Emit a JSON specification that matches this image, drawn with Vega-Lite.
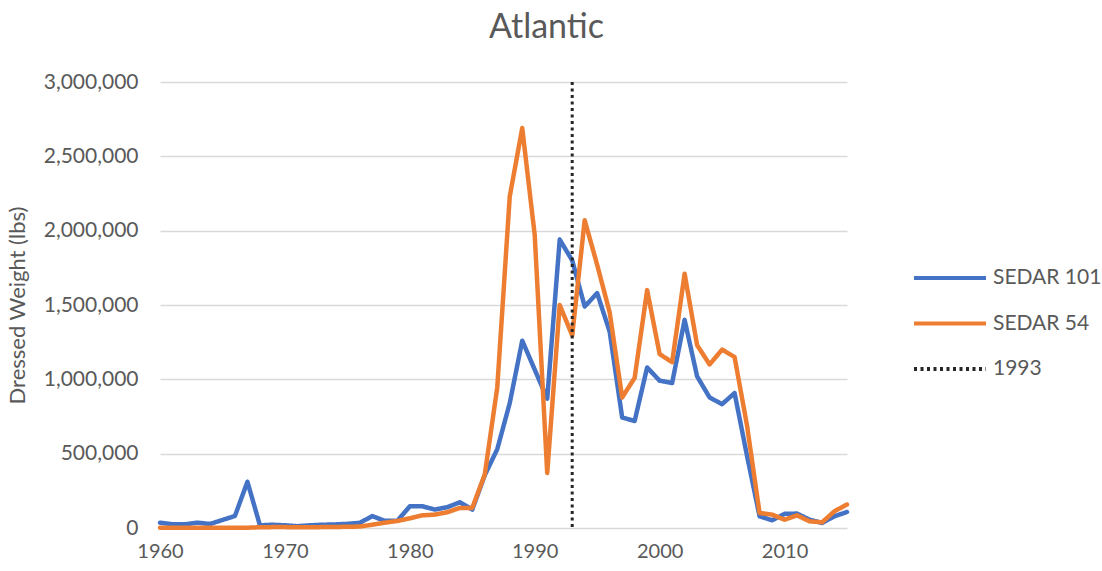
{
  "$schema": "https://vega.github.io/schema/vega-lite/v6.json",
  "width": 687,
  "height": 446,
  "autosize": "none",
  "padding": {"left": 160, "top": 82, "right": 255, "bottom": 43},
  "background": "white",
  "config": {"font": "Lato", "view": {"stroke": null}},
  "title": {"text": "Atlantic", "fontSize": 34, "fontWeight": "normal", "color": "#595959", "anchor": "middle", "dx": 43, "offset": 26},
  "datasets": {
    "landings": [
      {"year":1960,"series":"SEDAR 101","value":36000},
      {"year":1961,"series":"SEDAR 101","value":25000},
      {"year":1962,"series":"SEDAR 101","value":25000},
      {"year":1963,"series":"SEDAR 101","value":36000},
      {"year":1964,"series":"SEDAR 101","value":27000},
      {"year":1965,"series":"SEDAR 101","value":54000},
      {"year":1966,"series":"SEDAR 101","value":81000},
      {"year":1967,"series":"SEDAR 101","value":311000},
      {"year":1968,"series":"SEDAR 101","value":18000},
      {"year":1969,"series":"SEDAR 101","value":22000},
      {"year":1970,"series":"SEDAR 101","value":18000},
      {"year":1971,"series":"SEDAR 101","value":12000},
      {"year":1972,"series":"SEDAR 101","value":18000},
      {"year":1973,"series":"SEDAR 101","value":22000},
      {"year":1974,"series":"SEDAR 101","value":24000},
      {"year":1975,"series":"SEDAR 101","value":28000},
      {"year":1976,"series":"SEDAR 101","value":35000},
      {"year":1977,"series":"SEDAR 101","value":80000},
      {"year":1978,"series":"SEDAR 101","value":48000},
      {"year":1979,"series":"SEDAR 101","value":48000},
      {"year":1980,"series":"SEDAR 101","value":146000},
      {"year":1981,"series":"SEDAR 101","value":146000},
      {"year":1982,"series":"SEDAR 101","value":124000},
      {"year":1983,"series":"SEDAR 101","value":140000},
      {"year":1984,"series":"SEDAR 101","value":173000},
      {"year":1985,"series":"SEDAR 101","value":124000},
      {"year":1986,"series":"SEDAR 101","value":355000},
      {"year":1987,"series":"SEDAR 101","value":530000},
      {"year":1988,"series":"SEDAR 101","value":840000},
      {"year":1989,"series":"SEDAR 101","value":1260000},
      {"year":1990,"series":"SEDAR 101","value":1065000},
      {"year":1991,"series":"SEDAR 101","value":870000},
      {"year":1992,"series":"SEDAR 101","value":1940000},
      {"year":1993,"series":"SEDAR 101","value":1800000},
      {"year":1994,"series":"SEDAR 101","value":1490000},
      {"year":1995,"series":"SEDAR 101","value":1580000},
      {"year":1996,"series":"SEDAR 101","value":1320000},
      {"year":1997,"series":"SEDAR 101","value":743000},
      {"year":1998,"series":"SEDAR 101","value":720000},
      {"year":1999,"series":"SEDAR 101","value":1080000},
      {"year":2000,"series":"SEDAR 101","value":991000},
      {"year":2001,"series":"SEDAR 101","value":975000},
      {"year":2002,"series":"SEDAR 101","value":1400000},
      {"year":2003,"series":"SEDAR 101","value":1020000},
      {"year":2004,"series":"SEDAR 101","value":878000},
      {"year":2005,"series":"SEDAR 101","value":833000},
      {"year":2006,"series":"SEDAR 101","value":908000},
      {"year":2007,"series":"SEDAR 101","value":484000},
      {"year":2008,"series":"SEDAR 101","value":79000},
      {"year":2009,"series":"SEDAR 101","value":52000},
      {"year":2010,"series":"SEDAR 101","value":95000},
      {"year":2011,"series":"SEDAR 101","value":97000},
      {"year":2012,"series":"SEDAR 101","value":56000},
      {"year":2013,"series":"SEDAR 101","value":34000},
      {"year":2014,"series":"SEDAR 101","value":79000},
      {"year":2015,"series":"SEDAR 101","value":108000},
      {"year":1960,"series":"SEDAR 54","value":2000},
      {"year":1961,"series":"SEDAR 54","value":2000},
      {"year":1962,"series":"SEDAR 54","value":2000},
      {"year":1963,"series":"SEDAR 54","value":2000},
      {"year":1964,"series":"SEDAR 54","value":2000},
      {"year":1965,"series":"SEDAR 54","value":2000},
      {"year":1966,"series":"SEDAR 54","value":2000},
      {"year":1967,"series":"SEDAR 54","value":2000},
      {"year":1968,"series":"SEDAR 54","value":5000},
      {"year":1969,"series":"SEDAR 54","value":6000},
      {"year":1970,"series":"SEDAR 54","value":6000},
      {"year":1971,"series":"SEDAR 54","value":5000},
      {"year":1972,"series":"SEDAR 54","value":5000},
      {"year":1973,"series":"SEDAR 54","value":6000},
      {"year":1974,"series":"SEDAR 54","value":7000},
      {"year":1975,"series":"SEDAR 54","value":8000},
      {"year":1976,"series":"SEDAR 54","value":10000},
      {"year":1977,"series":"SEDAR 54","value":22000},
      {"year":1978,"series":"SEDAR 54","value":36000},
      {"year":1979,"series":"SEDAR 54","value":47000},
      {"year":1980,"series":"SEDAR 54","value":65000},
      {"year":1981,"series":"SEDAR 54","value":85000},
      {"year":1982,"series":"SEDAR 54","value":90000},
      {"year":1983,"series":"SEDAR 54","value":106000},
      {"year":1984,"series":"SEDAR 54","value":135000},
      {"year":1985,"series":"SEDAR 54","value":135000},
      {"year":1986,"series":"SEDAR 54","value":360000},
      {"year":1987,"series":"SEDAR 54","value":945000},
      {"year":1988,"series":"SEDAR 54","value":2230000},
      {"year":1989,"series":"SEDAR 54","value":2690000},
      {"year":1990,"series":"SEDAR 54","value":1970000},
      {"year":1991,"series":"SEDAR 54","value":370000},
      {"year":1992,"series":"SEDAR 54","value":1500000},
      {"year":1993,"series":"SEDAR 54","value":1295000},
      {"year":1994,"series":"SEDAR 54","value":2070000},
      {"year":1995,"series":"SEDAR 54","value":1770000},
      {"year":1996,"series":"SEDAR 54","value":1450000},
      {"year":1997,"series":"SEDAR 54","value":878000},
      {"year":1998,"series":"SEDAR 54","value":1010000},
      {"year":1999,"series":"SEDAR 54","value":1600000},
      {"year":2000,"series":"SEDAR 54","value":1170000},
      {"year":2001,"series":"SEDAR 54","value":1115000},
      {"year":2002,"series":"SEDAR 54","value":1710000},
      {"year":2003,"series":"SEDAR 54","value":1230000},
      {"year":2004,"series":"SEDAR 54","value":1100000},
      {"year":2005,"series":"SEDAR 54","value":1200000},
      {"year":2006,"series":"SEDAR 54","value":1150000},
      {"year":2007,"series":"SEDAR 54","value":687000},
      {"year":2008,"series":"SEDAR 54","value":101000},
      {"year":2009,"series":"SEDAR 54","value":90000},
      {"year":2010,"series":"SEDAR 54","value":56000},
      {"year":2011,"series":"SEDAR 54","value":85000},
      {"year":2012,"series":"SEDAR 54","value":45000},
      {"year":2013,"series":"SEDAR 54","value":38000},
      {"year":2014,"series":"SEDAR 54","value":113000},
      {"year":2015,"series":"SEDAR 54","value":158000}
    ],
    "marker": [
      {"year": 1993, "series": "1993"}
    ]
  },
  "layer": [
    {
      "data": {"name": "landings"},
      "mark": {"type": "line", "strokeWidth": 4.5, "strokeJoin": "round", "strokeCap": "round"},
      "encoding": {
        "x": {
          "field": "year", "type": "quantitative",
          "scale": {"domain": [1960, 2015], "nice": false, "zero": false},
          "axis": {"title": null, "values": [1960, 1970, 1980, 1990, 2000, 2010], "format": "d", "labelFontSize": 20, "labelColor": "#595959", "ticks": false, "domain": false, "grid": false, "labelPadding": 13, "labelFlush": false}
        },
        "y": {
          "field": "value", "type": "quantitative",
          "scale": {"domain": [0, 3000000], "nice": false},
          "axis": {"title": "Dressed Weight (lbs)", "titleFontSize": 22, "titleFontWeight": "normal", "titleColor": "#595959", "titlePadding": 14, "labelFontSize": 21, "labelColor": "#595959", "ticks": false, "domain": false, "labelPadding": 22, "values": [0, 500000, 1000000, 1500000, 2000000, 2500000, 3000000], "format": ",.0f", "gridColor": "#D9D9D9", "gridWidth": 1.5}
        },
        "color": {
          "field": "series", "type": "nominal",
          "scale": {"domain": ["SEDAR 101", "SEDAR 54", "1993"], "range": ["#4472C4", "#ED7D31", "#262626"]},
          "legend": {"orient": "none", "legendX": 776, "legendY": 182, "title": null, "labelFontSize": 21, "labelColor": "#595959", "symbolType": "M-3,0L3,0", "symbolSize": 576, "symbolStrokeWidth": 4, "labelOffset": 29, "rowPadding": 21.5}
        },
        "strokeDash": {
          "field": "series", "type": "nominal",
          "scale": {"domain": ["SEDAR 101", "SEDAR 54", "1993"], "range": [[1, 0], [1, 0], [3, 3.5]]},
          "legend": {"orient": "none", "legendX": 776, "legendY": 182, "title": null, "labelFontSize": 21, "labelColor": "#595959", "symbolType": "M-3,0L3,0", "symbolSize": 576, "symbolStrokeWidth": 4, "labelOffset": 29, "rowPadding": 21.5}
        }
      }
    },
    {
      "data": {"name": "marker"},
      "mark": {"type": "rule", "strokeWidth": 3},
      "encoding": {
        "x": {"field": "year", "type": "quantitative"},
        "color": {"field": "series", "type": "nominal"},
        "strokeDash": {"field": "series", "type": "nominal"}
      }
    }
  ]
}
